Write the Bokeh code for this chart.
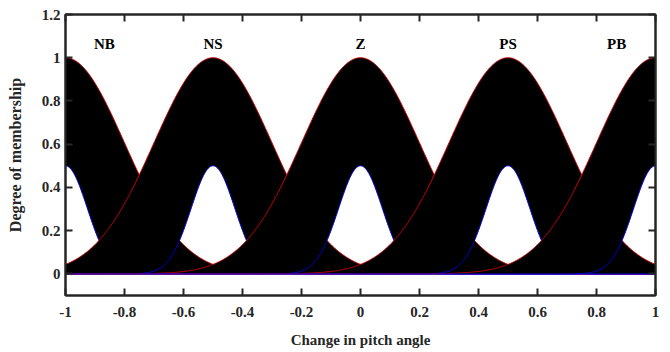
import numpy as np
from bokeh.plotting import figure
from bokeh.models import LinearAxis, FixedTicker, Range1d
from bokeh.core.properties import value
from bokeh.embed import file_html
from bokeh.resources import INLINE

# Membership function parameters
mf_names = ["NB", "NS", "Z", "PS", "PB"]
mf_centers = [-1.0, -0.5, 0.0, 0.5, 1.0]
upper_sigma = [0.2, 0.2, 0.2, 0.2, 0.2]
upper_peak = [1.0, 1.0, 1.0, 1.0, 1.0]
lower_sigma = [0.074, 0.074, 0.074, 0.074, 0.074]
lower_peak = [0.5, 0.5, 0.5, 0.5, 0.5]

label_x = [-0.868, -0.5, 0.0, 0.5, 0.868]
label_y = [1.065, 1.065, 1.065, 1.065, 1.065]

x_ticks = [-1, -0.8, -0.6, -0.4, -0.2, 0, 0.2, 0.4, 0.6, 0.8, 1]
x_tick_labels = ["-1", "-0.8", "-0.6", "-0.4", "-0.2", "0", "0.2", "0.4", "0.6", "0.8", "1"]
y_ticks = [0, 0.2, 0.4, 0.6, 0.8, 1, 1.2]
y_tick_labels = ["0", "0.2", "0.4", "0.6", "0.8", "1", "1.2"]

FONT = "Liberation Serif"
FRAME = "#262626"

p = figure(width=670, height=352, x_range=Range1d(-1, 1), y_range=Range1d(-0.1, 1.2),
           output_backend="svg", toolbar_location=None,
           min_border_left=65, min_border_right=15, min_border_top=14, min_border_bottom=57)
p.grid.visible = False
p.outline_line_color = FRAME
p.outline_line_width = 2
p.background_fill_color = "white"
p.border_fill_color = "white"

xs = np.linspace(-1, 1, 1201)
for c, su, pu, sl, pl in zip(mf_centers, upper_sigma, upper_peak, lower_sigma, lower_peak):
    up = pu * np.exp(-(xs - c) ** 2 / (2 * su ** 2))
    lo = pl * np.exp(-(xs - c) ** 2 / (2 * sl ** 2))
    p.varea(x=xs, y1=lo, y2=up, fill_color="black")
    p.line(xs, up, line_color="#d00000", line_width=1)
    p.line(xs, lo, line_color="#0000e0", line_width=1)

p.text(x=label_x, y=label_y, text=mf_names, text_align="center", text_baseline="middle",
       text_font=value(FONT), text_font_style="bold", text_font_size="15px", text_color="black")

def style_axis(ax):
    ax.axis_line_color = FRAME
    ax.axis_line_width = 2
    ax.major_tick_line_color = FRAME
    ax.major_tick_line_width = 2
    ax.major_tick_in = 7
    ax.major_tick_out = 0
    ax.minor_tick_line_color = None
    ax.major_label_text_font = FONT
    ax.major_label_text_font_style = "bold"
    ax.major_label_text_font_size = "15px"
    ax.major_label_text_color = "#262626"

xa = p.xaxis[0]
xa.ticker = FixedTicker(ticks=x_ticks)
xa.major_label_overrides = {t: l for t, l in zip(x_ticks, x_tick_labels)}
style_axis(xa)
xa.major_label_standoff = 11
xa.axis_label = "Change in pitch angle"
xa.axis_label_text_font = FONT
xa.axis_label_text_font_style = "bold"
xa.axis_label_text_font_size = "15px"
xa.axis_label_standoff = 12
xa.axis_label_text_color = "#262626"

ya = p.yaxis[0]
ya.ticker = FixedTicker(ticks=y_ticks)
ya.major_label_overrides = {t: l for t, l in zip(y_ticks, y_tick_labels)}
style_axis(ya)
ya.major_label_standoff = 5
ya.axis_label = "Degree of membership"
ya.axis_label_text_font = FONT
ya.axis_label_text_font_style = "bold"
ya.axis_label_text_font_size = "16px"
ya.axis_label_standoff = 15
ya.axis_label_text_color = "#262626"

top = LinearAxis(ticker=FixedTicker(ticks=x_ticks))
style_axis(top)
top.major_label_overrides = {t: "" for t in x_ticks}
top.major_label_standoff = 0
p.add_layout(top, "above")

right = LinearAxis(ticker=FixedTicker(ticks=y_ticks))
style_axis(right)
right.major_label_overrides = {t: "" for t in y_ticks}
right.major_label_standoff = 0
p.add_layout(right, "right")

open("out.html", "w").write(file_html(p, INLINE))
